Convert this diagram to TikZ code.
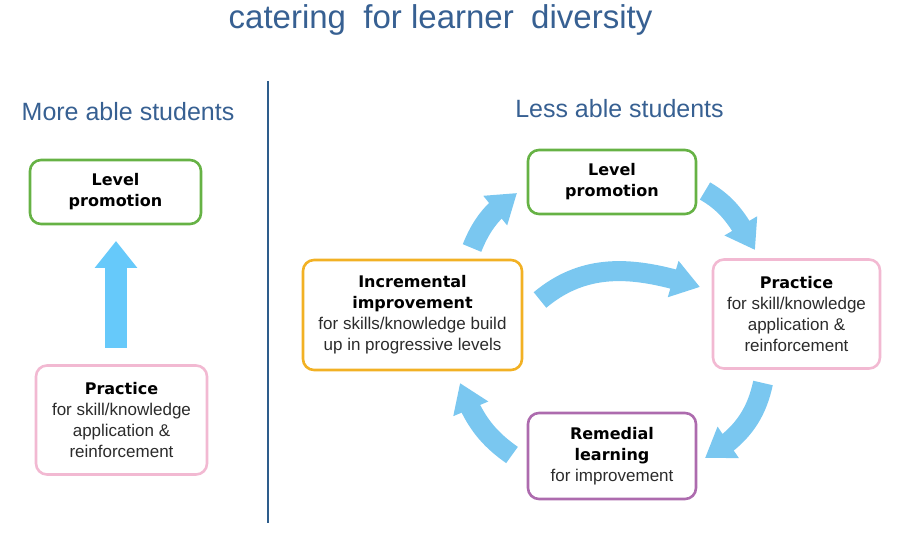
\documentclass[tikz,border=0pt]{standalone}
\usepackage{fontspec}
\setmainfont{Liberation Sans}
\newfontfamily\hdfont{DejaVu Sans}
\usetikzlibrary{arrows.meta,bending}
\definecolor{titleblue}{HTML}{376092}
\definecolor{linecol}{HTML}{2E5D8C}
\definecolor{bgreen}{HTML}{66B245}
\definecolor{borange}{HTML}{F2B124}
\definecolor{bpink}{HTML}{F2B9D2}
\definecolor{bpurple}{HTML}{AD6BAE}
\definecolor{arrowblue}{HTML}{7AC7F0}
\definecolor{arrowblueL}{HTML}{66C9FA}
\definecolor{bodytext}{HTML}{2B2B2B}
\newcommand\boxhead[1]{{\hdfont\bfseries\fontsize{16}{21}\selectfont\color{black}#1}}
\begin{document}
\begin{tikzpicture}[x=1pt,y=1pt,
  box/.style={draw, line width=2.6pt, rounded corners=11pt, align=center,
    inner sep=0pt, font=\fontsize{17}{21}\selectfont, text=bodytext},
  flow/.style={draw=arrowblue, line width=20pt, -{Triangle[length=28pt,width=36pt]}},
  upflow/.style={draw=arrowblueL, line width=22pt, -{Triangle[length=27pt,width=41pt]}},
  heading/.style={text=titleblue, anchor=base, font=\fontsize{25}{30}\selectfont},
  titletext/.style={text=titleblue, anchor=base, font=\fontsize{33}{40}\selectfont}]
\useasboundingbox (0,0) rectangle (913,533);

\node[titletext] (title) at (440.5,504) {catering\hspace{0.25em} for learner\hspace{0.25em} diversity};
\node[heading] (more) at (128,412) {More able students};
\node[heading] (less) at (619.5,415) {Less able students};

\coordinate (divtop) at (268,452);
\coordinate (divbot) at (268,10);
\draw[linecol, line width=2.2pt] (divtop) -- (divbot);

% left side
\node[box, draw=bgreen, minimum width=171pt, minimum height=64pt] (llp) at (115.5,341)
  {\boxhead{Level}\\\boxhead{promotion}};
\node[box, draw=bpink, minimum width=171pt, minimum height=109pt] (lpr) at (121.5,113)
  {\boxhead{Practice}\\for skill/knowledge\\application \&\\reinforcement};
\coordinate (la0) at (116,185);
\coordinate (la1) at (116,292);
\draw[upflow] (la0) -- (la1);

% right side
\node[box, draw=bgreen, minimum width=168pt, minimum height=64pt] (rlp) at (612,351)
  {\boxhead{Level}\\\boxhead{promotion}};
\node[box, draw=borange, minimum width=219pt, minimum height=110pt] (inc) at (412.5,218)
  {\boxhead{Incremental}\\\boxhead{improvement}\\for skills/knowledge build\\up in progressive levels};
\node[box, draw=bpink, minimum width=167pt, minimum height=109pt] (rpr) at (796.5,219)
  {\boxhead{Practice}\\for skill/knowledge\\application \&\\reinforcement};
\node[box, draw=bpurple, minimum width=168pt, minimum height=86pt] (rem) at (612,77)
  {\boxhead{Remedial}\\\boxhead{learning}\\for improvement};

\coordinate (a1s) at (472,285);
\coordinate (a1e) at (517,340);
\coordinate (a2s) at (705,342);
\coordinate (a2e) at (755,283);
\coordinate (a3s) at (763,150);
\coordinate (a3e) at (705,75);
\coordinate (a4s) at (512,78);
\coordinate (a4e) at (460,150);
\coordinate (a5s) at (540,233);
\coordinate (a5e) at (700,246);

\draw[flow] (a1s) to[out=68,in=215] (a1e);
\draw[flow] (a2s) to[out=-30,in=120] (a2e);
\draw[flow] (a3s) to[out=258,in=30] (a3e);
\draw[flow] (a4s) to[out=145,in=-70] (a4e);
\draw[flow] (a5s) to[out=40,in=162] (a5e);
\end{tikzpicture}
\end{document}
